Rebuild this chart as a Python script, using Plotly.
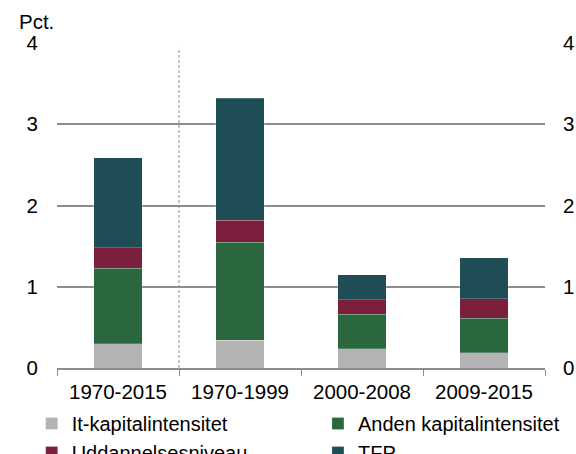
import plotly.graph_objects as go

categories = ["1970-2015", "1970-1999", "2000-2008", "2009-2015"]
it_kapital = [0.30, 0.34, 0.24, 0.19]
anden_kapital = [0.93, 1.21, 0.42, 0.42]
uddannelse = [0.25, 0.27, 0.18, 0.24]
tfp = [1.11, 1.50, 0.31, 0.51]
series_names = ["It-kapitalintensitet", "Anden kapitalintensitet", "Uddannelsesniveau", "TFP"]
colors = ["#b3b3b3", "#2a673e", "#7b1f3d", "#1f4d56"]
legend_cols = ["legend", "legend2", "legend", "legend2"]
y_ticks = [0, 1, 2, 3, 4]

font = "Liberation Sans, Arial, sans-serif"
fig = go.Figure()
for name, vals, col, lg in zip(series_names, [it_kapital, anden_kapital, uddannelse, tfp], colors, legend_cols):
    fig.add_trace(go.Bar(x=categories, y=vals, name=name, legend=lg,
                         marker=dict(color=col, line=dict(width=0.6, color="rgba(255,255,255,0.35)")),
                         width=0.4))

# invisible trace for right axis
fig.add_trace(go.Scatter(x=categories, y=[None]*4, yaxis="y2", showlegend=False, hoverinfo="skip"))

fig.add_shape(type="line", xref="x", yref="y", x0=0.5, x1=0.5, y0=0, y1=3.94,
              line=dict(color="#8f8f8f", width=1, dash="3px,2px"))

legend_common = dict(orientation="v", xref="container", yref="container", xanchor="left",
                     yanchor="top", traceorder="normal", font=dict(size=20),
                     itemwidth=30, tracegroupgap=0, bgcolor="rgba(0,0,0,0)")

fig.update_layout(
    barmode="stack",
    width=576, height=454,
    margin=dict(l=57, r=31, t=43, b=86, autoexpand=False),
    plot_bgcolor="white", paper_bgcolor="white",
    font=dict(family=font, size=20.5, color="#000000"),
    xaxis=dict(showgrid=False, showline=True, linecolor="#8c8c8c", linewidth=1.5,
               ticks="outside", ticklen=6, tickcolor="#8c8c8c", tickson="boundaries",
               ticklabelstandoff=5, tickfont=dict(size=20.5)),
    yaxis=dict(range=[0, 4], tickvals=y_ticks, showgrid=True, gridcolor="#8c8c8c", gridwidth=1.5,
               zeroline=False, showline=False, ticks="", ticklabelstandoff=18, tickfont=dict(size=20.5)),
    yaxis2=dict(range=[0, 4], tickvals=y_ticks, overlaying="y", side="right", showgrid=False,
                zeroline=False, showline=False, ticks="", ticklabelstandoff=17, tickfont=dict(size=20.5)),
    legend=dict(x=0.055, y=1 - 404 / 454, **legend_common),
    legend2=dict(x=0.552, y=1 - 404 / 454, **legend_common),
    showlegend=True,
    annotations=[dict(text="Pct.", xref="paper", yref="paper", x=-0.082, y=1.025,
                      xanchor="left", yanchor="bottom", showarrow=False, font=dict(size=20.5))],
)
fig.write_html("out.html", config={"displayModeBar": False},
               post_script="document.body.style.margin='0';document.body.style.padding='0';")
